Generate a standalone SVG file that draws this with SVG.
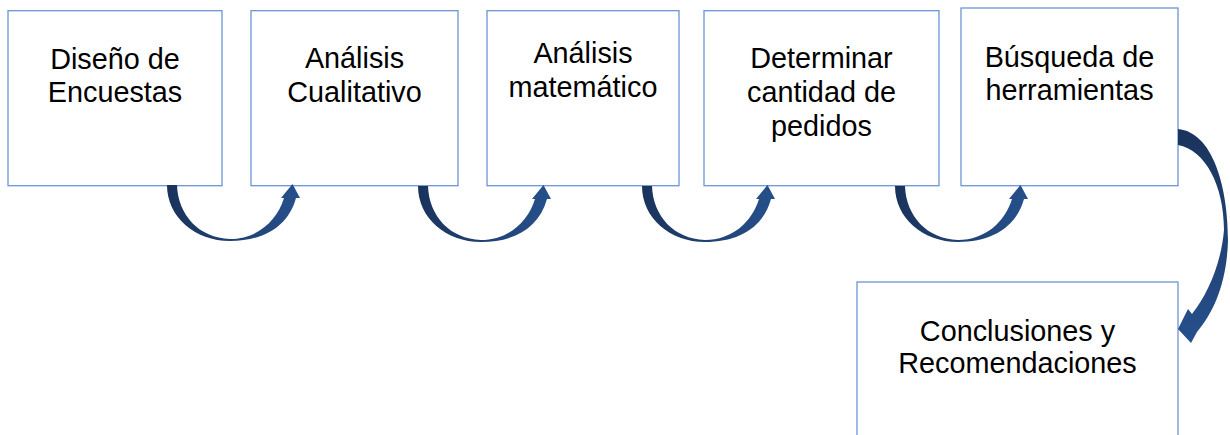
<svg xmlns="http://www.w3.org/2000/svg" width="1230" height="435" viewBox="0 0 1230 435">
<defs>
<style>
.box{fill:#fff;stroke:#6b95d4;stroke-width:1.3}
.t{font-family:"Liberation Sans",Arial,sans-serif;font-size:28.8px;fill:#000;text-anchor:middle}
.arr{fill:url(#gh)}
</style>
<linearGradient id="gh" x1="0" y1="0" x2="1" y2="0">
<stop offset="0" stop-color="#1a335c"/>
<stop offset="1" stop-color="#26508c"/>
</linearGradient>
<linearGradient id="gv" x1="0" y1="0" x2="0" y2="1">
<stop offset="0" stop-color="#1a335c"/>
<stop offset="1" stop-color="#26508c"/>
</linearGradient>
<path id="cu" d="M0,0 L10,0 C11,30 32,53 63,54 C90,54 110,36 117,13 L114,13 L125.5,-1 L133,13 L129,13 C121,42 96,56 63,56 C28,56 0,32 0,0 Z"/>
</defs>
<rect width="1230" height="435" fill="#fff"/>
<g id="n1"><rect class="box" x="8" y="10.7" width="214" height="175"/>
<text class="t" x="115" y="69">Diseño de</text><text class="t" x="115" y="102">Encuestas</text></g>
<g id="n2"><rect class="box" x="251" y="10.7" width="207" height="175"/>
<text class="t" x="354.5" y="68">Análisis</text><text class="t" x="354.5" y="102">Cualitativo</text></g>
<g id="n3"><rect class="box" x="487" y="10.7" width="192" height="175"/>
<text class="t" x="583" y="63">Análisis</text><text class="t" x="583" y="97">matemático</text></g>
<g id="n4"><rect class="box" x="704" y="10.7" width="235" height="175"/>
<text class="t" x="821.5" y="68">Determinar</text><text class="t" x="821.5" y="102">cantidad de</text><text class="t" x="821.5" y="136">pedidos</text></g>
<g id="n5"><rect class="box" x="961" y="8" width="217" height="177.7"/>
<text class="t" x="1069.5" y="67">Búsqueda de</text><text class="t" x="1069.5" y="99.5">herramientas</text></g>
<g id="n6"><rect class="box" x="857" y="282" width="321" height="170"/>
<text class="t" x="1017.5" y="341">Conclusiones y</text><text class="t" x="1017.5" y="373">Recomendaciones</text></g>
<g id="connectors">
<use href="#cu" class="arr" x="167" y="185"/>
<use href="#cu" class="arr" x="418" y="186"/>
<use href="#cu" class="arr" x="642" y="186"/>
<use href="#cu" class="arr" x="895" y="186"/>
<path fill="url(#gv)" d="M1178,129 C1212,132 1228,185 1228,240 C1227,282 1214,312 1197,332 L1191,343 L1178,329 L1188,309 L1192,314 C1207,295 1221,265 1224,230 C1224,185 1205,150 1178,145 Z"/>
</g>
</svg>
